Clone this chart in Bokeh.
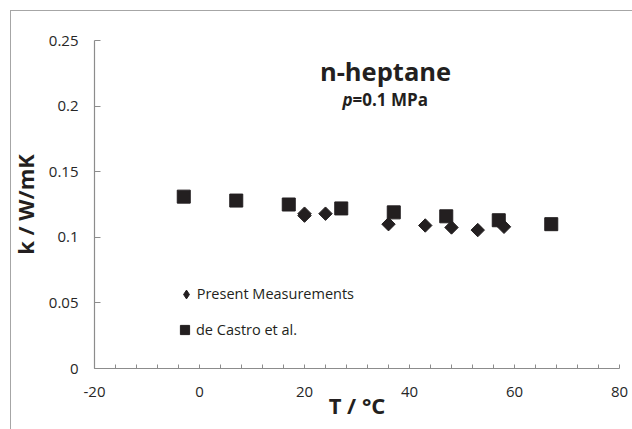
import math
from bokeh.plotting import figure
from bokeh.models import Range1d, FixedTicker, Label, Legend, LegendItem
from bokeh.embed import file_html
from bokeh.resources import INLINE

# ---- data ----
T_present = [20, 20, 24, 36, 43, 48, 53, 58]
k_present = [0.1165, 0.118, 0.118, 0.110, 0.109, 0.1075, 0.1055, 0.108]

T_decastro = [-3, 7, 17, 27, 37, 47, 57, 67]
k_decastro = [0.131, 0.128, 0.125, 0.122, 0.119, 0.116, 0.113, 0.110]

x_ticks = [-20, 0, 20, 40, 60, 80]
x_tick_labels = ["-20", "0", "20", "40", "60", "80"]
y_ticks = [0, 0.05, 0.1, 0.15, 0.2, 0.25]
y_tick_labels = ["0", "0.05", "0.1", "0.15", "0.2", "0.25"]

title_text = "n-heptane"
sub_p = "p"
sub_rest = "=0.1 MPa"
x_label = "T / °C"
y_label = "k / W/mK"
series_names = ["Present Measurements", "de Castro et al."]

# ---- layout ----
W, H = 632, 429
FL, FR, FT, FB = 94, 619, 40, 368
X0, X1, Y0, Y1 = -20, 80, 0, 0.25

def px_x(px):
    return X0 + (px - FL) * (X1 - X0) / (FR - FL)

def px_y(py):
    return Y0 + (FB - py) * (Y1 - Y0) / (FB - FT)

INK = "#231f20"
AXIS = "#8c8c8c"
FRAME = "#a6a6a6"
FONT = "Open Sans"

p = figure(width=W, height=H, x_range=Range1d(X0, X1), y_range=Range1d(Y0, Y1),
           output_backend="svg", toolbar_location=None,
           min_border_left=FL, min_border_right=W - FR,
           min_border_top=FT, min_border_bottom=H - FB)
p.outline_line_color = None
p.xgrid.grid_line_color = None
p.ygrid.grid_line_color = None
p.background_fill_color = "white"
p.border_fill_color = None
# chart-area border (grey line 10px in from the left and top edges)
p.styles = {
    "background-color": "white",
    "background-image": f"linear-gradient({FRAME},{FRAME}), linear-gradient({FRAME},{FRAME})",
    "background-size": "1px 100%, 100% 1px",
    "background-position": "10px 10px, 10px 10px",
    "background-repeat": "no-repeat",
}

minor = [v for v in range(-16, 80, 4) if v % 20 != 0]
p.xaxis.ticker = FixedTicker(ticks=x_ticks, minor_ticks=minor)
p.xaxis.major_label_overrides = dict(zip(x_ticks, x_tick_labels))
p.yaxis.ticker = FixedTicker(ticks=y_ticks, minor_ticks=[])
p.yaxis.major_label_overrides = dict(zip(y_ticks, y_tick_labels))

for ax in (p.xaxis, p.yaxis):
    ax.axis_line_color = AXIS
    ax.axis_line_width = 1.2
    ax.major_tick_line_color = AXIS
    ax.minor_tick_line_color = AXIS
    ax.major_tick_out = 0
    ax.minor_tick_out = 0
    ax.major_label_text_font = FONT
    ax.major_label_text_font_size = "15px"
    ax.major_label_text_color = "#262626"
    ax.axis_label_text_font = FONT
    ax.axis_label_text_font_size = "22px"
    ax.axis_label_text_font_style = "bold"
    ax.axis_label_text_color = INK
p.xaxis.major_tick_in = 4
p.xaxis.minor_tick_in = 4
p.xaxis.major_label_standoff = 18
p.yaxis.major_tick_in = 6
p.yaxis.minor_tick_in = 0
p.yaxis.major_label_standoff = 16
p.xaxis.axis_label = x_label
p.yaxis.axis_label = y_label
p.xaxis.axis_label_standoff = -10
p.yaxis.axis_label_standoff = 6

# hidden narrow diamonds (inside the rotated squares) provide the legend glyph
r_di_leg = p.scatter(T_present, k_present, marker="diamond", size=9,
                     fill_color=INK, line_color=INK)
r_sq = p.scatter(T_decastro, k_decastro, marker="square", size=13,
                 fill_color=INK, line_color=INK)
r_di = p.scatter(T_present, k_present, marker="square", angle=math.pi / 4, size=9.5,
                 fill_color=INK, line_color=INK)

leg1 = Legend(items=[LegendItem(label=series_names[0], renderers=[r_di_leg])],
              location=(80.7, 63.5), padding=0, margin=0, spacing=0,
              glyph_width=22, glyph_height=22, label_height=20, label_standoff=0,
              label_text_font=FONT, label_text_font_size="14.5px", label_text_color=INK,
              background_fill_alpha=0, border_line_color=None)
leg2 = Legend(items=[LegendItem(label=series_names[1], renderers=[r_sq])],
              location=(79, 26), padding=0, margin=0, spacing=0,
              glyph_width=23, glyph_height=25, label_height=25, label_standoff=0,
              label_text_font=FONT, label_text_font_size="14.5px", label_text_color=INK,
              background_fill_alpha=0, border_line_color=None)
p.add_layout(leg1)
p.add_layout(leg2)

def lab(text, xp, yp, size, style="bold", align="left"):
    p.add_layout(Label(x=px_x(xp), y=px_y(yp), text=text, text_align=align,
                       text_baseline="alphabetic", text_font=FONT,
                       text_font_style=style, text_font_size=size,
                       text_color=INK))

lab(title_text, 385, 70, "25.5px", align="center")
lab(sub_p, 352, 99, "17px", style="bold italic", align="right")
lab(sub_rest, 352, 99, "17px", align="left")

open("out.html", "w").write(file_html(p, INLINE))
